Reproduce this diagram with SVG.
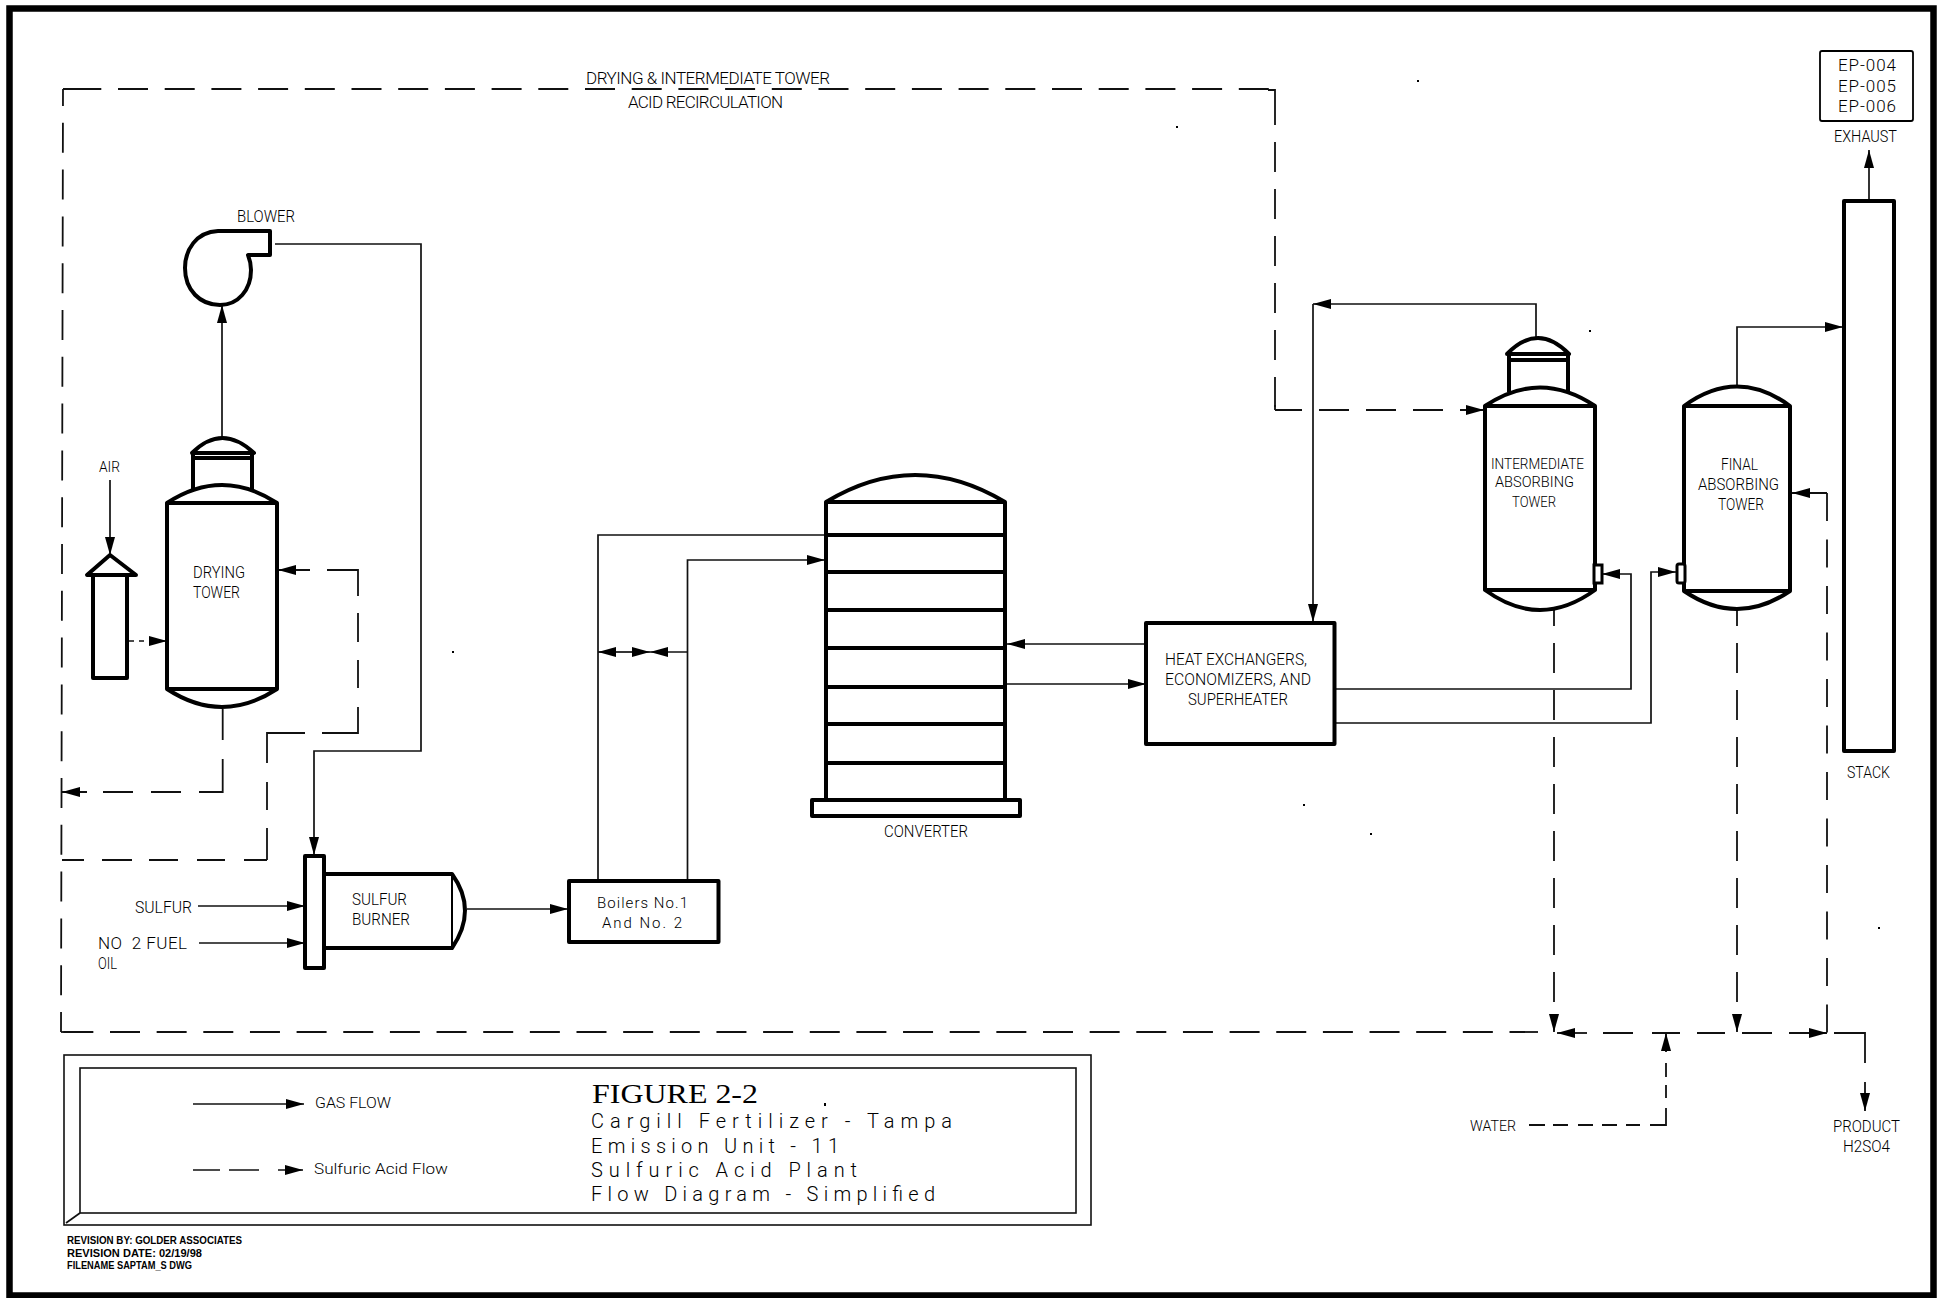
<svg xmlns="http://www.w3.org/2000/svg" width="1943" height="1298" viewBox="0 0 1943 1298">
<style>
.eq{fill:#fff;stroke:#000;stroke-width:4;stroke-linejoin:round}
.eqn{fill:none;stroke:#000;stroke-width:4;stroke-linejoin:round}
.thin{fill:none;stroke:#000;stroke-width:2}
.gas{fill:none;stroke:#111;stroke-width:1.7;stroke-linejoin:miter}
.acid{fill:none;stroke:#111;stroke-width:1.8;stroke-dasharray:30 17}
.acidx{fill:none;stroke:#111;stroke-width:1.8}
text{font-family:"Roboto","Liberation Sans",Arial,sans-serif;font-weight:300;font-size:17px;fill:#000}
.big{font-size:20px}
.fig{font-family:"Liberation Serif","Times New Roman",serif;font-weight:400;font-size:28px}
.small{font-family:"Liberation Sans",Arial,sans-serif;font-weight:700;font-size:10px}
.sm15{font-size:15px}
</style>
<defs>
<marker id="a" markerUnits="userSpaceOnUse" markerWidth="20" markerHeight="12" refX="18" refY="6" orient="auto"><path d="M0,1 L18,6 L0,11 Z" fill="#000"/></marker>
</defs>
<rect width="1943" height="1298" fill="#fff"/>
<rect id="frame" x="9.5" y="8.5" width="1924" height="1287" fill="none" stroke="#000" stroke-width="6.5"/>

<g id="connectors">
<path class="gas" d="M222,437 V305" marker-end="url(#a)"/>
<path class="gas" d="M275,244 H421 V751 H314 V855" marker-end="url(#a)"/>
<path class="gas" d="M110,480 V555" marker-end="url(#a)"/>
<path class="gas" d="M129,641 H134 M139,641 H144 M149,641 H167" marker-end="url(#a)"/>
<path class="gas" d="M198,906 H305" marker-end="url(#a)"/>
<path class="gas" d="M199,943 H305" marker-end="url(#a)"/>
<path class="gas" d="M467,909 H568" marker-end="url(#a)"/>
<path class="gas" d="M598,880 V535 H826"/>
<path class="gas" d="M687.5,880 V560 H825" marker-end="url(#a)"/>
<path class="gas" d="M618,652 H598" marker-end="url(#a)"/>
<path class="gas" d="M618,652 H650" marker-end="url(#a)"/>
<path class="gas" d="M687,652 H650" marker-end="url(#a)"/>
<path class="gas" d="M1146,644 H1007" marker-end="url(#a)"/>
<path class="gas" d="M1007,684 H1146" marker-end="url(#a)"/>
<path class="gas" d="M1536,338 V304 H1313" marker-end="url(#a)"/>
<path class="gas" d="M1313,304 V622" marker-end="url(#a)"/>
<path class="gas" d="M1336,689 H1631 V574 H1602" marker-end="url(#a)"/>
<path class="gas" d="M1336,723 H1651 V572 H1676" marker-end="url(#a)"/>
<path class="gas" d="M1737,386 V327 H1843" marker-end="url(#a)"/>
<path class="gas" d="M1869,201 V150" marker-end="url(#a)"/>
<path class="acid" style="stroke-dasharray:30 16.8;stroke-dashoffset:13" d="M63,89 L61,1032"/>
<path class="acid" style="stroke-dasharray:30 16.7" d="M71.3,89 H1275"/>
<path class="acidx" d="M63,89 H72 M1268,90 H1275 V125 M1275,405 V410"/>
<path class="acid" d="M1275,142 V410"/>
<path class="acid" style="stroke-dashoffset:3" d="M1275,410 H1484" marker-end="url(#a)"/>
<path class="acid" style="stroke-dasharray:30 16.65" d="M63.35,1032 H1538"/>
<path class="acidx" d="M61,1032 H64"/>
<path class="acidx" d="M1587,1033 H1557" marker-end="url(#a)"/>
<path class="acidx" d="M1603,1033 H1633 M1652,1033 H1680 M1697,1033 H1725 M1742,1033 H1772 M1789,1033 H1827" marker-end="url(#a)"/>
<path class="acidx" d="M1834,1033 H1865 V1063 M1865,1082 V1111" marker-end="url(#a)"/>
<path class="acid" style="stroke-dashoffset:14" d="M1554,610 V1032" marker-end="url(#a)"/>
<path class="acid" style="stroke-dashoffset:14" d="M1737,610 V1032" marker-end="url(#a)"/>
<path class="acid" style="stroke-dasharray:28 18.5" d="M1827,493 V1033"/>
<path class="acidx" d="M1827,493 H1792" marker-end="url(#a)"/>
<path class="acidx" d="M1529,1125 H1545 M1553,1125 H1568 M1578,1125 H1593 M1602,1125 H1617 M1626,1125 H1640 M1650,1125 H1666 V1108 M1666,1098 V1085 M1666,1077 V1063 M1666,1052 V1033" marker-end="url(#a)"/>
<path class="acidx" d="M222.7,709 V740 M222.7,759 V792 H199 M181,792 H151 M133,792 H103 M87,792 H62" marker-end="url(#a)"/>
<path class="acidx" d="M267,860 H244 M225,860 H197 M178,860 H149 M132,860 H102 M84,860 H62"/>
<path class="acidx" d="M267,860 V828 M267,810 V782 M267,763 V733 H305 M322,733 H358 V707 M358,688 V660 M358,642 V613 M358,596 V570 H327 M310,570 H278" marker-end="url(#a)"/>
</g>

<g id="blower"><path class="eqn" d="M270,231 H218 C196,232 185,250 185,268 C185,290 200,305 220,305 C238,305 251,290 251,270 C251,264 250,260 248,255 H270 Z"/><text x="237" y="222" textLength="58" lengthAdjust="spacingAndGlyphs">BLOWER</text></g>

<g id="air-intake"><path class="eqn" d="M93,575 V678 H127 V575 M87,575 H136 L110,555 Z"/><text x="99" y="472" textLength="21" lengthAdjust="spacingAndGlyphs" class="sm15">AIR</text></g>

<g id="drying-tower">
<path class="eqn" d="M192,453 Q222,423 254,453 Z M193,458 H252 M193,453 V490 M252,453 V490"/>
<path class="eq" d="M167,503 Q222,467 277,503 V689 Q222,725 167,689 Z"/>
<path class="eqn" d="M167,503 H277 M167,689 H277"/>
<text x="193" y="578" textLength="52" lengthAdjust="spacingAndGlyphs">DRYING</text>
<text x="193" y="598" textLength="47" lengthAdjust="spacingAndGlyphs">TOWER</text>
</g>

<g id="sulfur-burner">
<path class="eq" d="M324,874 H452 Q478,910 452,948 H324 Z"/>
<path class="thin" d="M452,874 V948"/>
<rect class="eq" x="305" y="856" width="19" height="112"/>
<text x="352" y="905" textLength="55" lengthAdjust="spacingAndGlyphs">SULFUR</text>
<text x="352" y="925" textLength="58" lengthAdjust="spacingAndGlyphs">BURNER</text>
</g>
<g id="sulfur-label"><text x="135" y="913" textLength="57" lengthAdjust="spacingAndGlyphs">SULFUR</text></g>
<g id="fuel-label">
<text x="98" y="949" textLength="89" xml:space="preserve">NO  2 FUEL</text>
<text x="98" y="969" textLength="19" lengthAdjust="spacingAndGlyphs">OIL</text>
</g>

<g id="boilers"><rect class="eq" x="569" y="881" width="149.500" height="61"/>
<text x="597" y="908" textLength="91" class="sm15">Boilers No.1</text>
<text x="602" y="928" textLength="80" class="sm15">And No. 2</text></g>

<g id="converter">
<path class="eq" d="M826,502 Q915,448 1005,502 V800 H826 Z"/>
<path class="eqn" d="M826,502 H1005 M826,535 H1005 M826,572 H1005 M826,610 H1005 M826,648 H1005 M826,687 H1005 M826,724 H1005 M826,763 H1005"/>
<rect class="eq" x="812" y="800" width="208" height="16"/>
<text x="884" y="837" textLength="84" lengthAdjust="spacingAndGlyphs">CONVERTER</text>
</g>

<g id="heat-exchangers"><rect class="eq" x="1146" y="623" width="188.500" height="121"/>
<text x="1165" y="665" textLength="142" lengthAdjust="spacingAndGlyphs">HEAT EXCHANGERS,</text>
<text x="1165" y="685" textLength="146" lengthAdjust="spacingAndGlyphs">ECONOMIZERS, AND</text>
<text x="1188" y="705" textLength="100" lengthAdjust="spacingAndGlyphs">SUPERHEATER</text></g>

<g id="intermediate-tower">
<path class="eqn" d="M1507,354 Q1538,322 1569,354 Z M1507,360 H1569 M1509,354 V392 M1568,354 V392"/>
<path class="eq" d="M1485,406 Q1540,369 1595,406 V590 Q1540,630 1485,590 Z"/>
<path class="eqn" d="M1485,406 H1595 M1485,590 H1595"/>
<rect x="1594" y="565" width="8" height="18" fill="#fff" stroke="#000" stroke-width="3"/>
<text x="1491" y="469" textLength="93" lengthAdjust="spacingAndGlyphs" class="sm15">INTERMEDIATE</text>
<text x="1495" y="487" textLength="79" lengthAdjust="spacingAndGlyphs" class="sm15">ABSORBING</text>
<text x="1512" y="507" textLength="44" lengthAdjust="spacingAndGlyphs" class="sm15">TOWER</text>
</g>

<g id="final-tower">
<path class="eq" d="M1684,406 Q1737,367 1790,406 V591 Q1737,627 1684,591 Z"/>
<path class="eqn" d="M1684,406 H1790 M1684,591 H1790"/>
<rect x="1677" y="564" width="8" height="19" rx="2" fill="#fff" stroke="#000" stroke-width="3"/>
<text x="1721" y="470" textLength="37" lengthAdjust="spacingAndGlyphs">FINAL</text>
<text x="1698" y="490" textLength="81" lengthAdjust="spacingAndGlyphs">ABSORBING</text>
<text x="1718" y="510" textLength="46" lengthAdjust="spacingAndGlyphs">TOWER</text>
</g>

<g id="stack"><rect class="eq" x="1844" y="201" width="50" height="550"/>
<text x="1847" y="778" textLength="43" lengthAdjust="spacingAndGlyphs">STACK</text></g>

<g id="exhaust">
<rect x="1820" y="51" width="93" height="70" rx="2" fill="none" stroke="#000" stroke-width="1.8"/>
<text x="1838" y="71" textLength="58">EP-004</text>
<text x="1838" y="92" textLength="58">EP-005</text>
<text x="1838" y="112" textLength="58">EP-006</text>
<text x="1834" y="142" textLength="63" lengthAdjust="spacingAndGlyphs">EXHAUST</text>
</g>

<g id="recirculation-label">
<text x="586" y="84" textLength="244">DRYING &amp; INTERMEDIATE TOWER</text>
<text x="628" y="108" textLength="155">ACID RECIRCULATION</text>
</g>
<g id="water-label"><text x="1470" y="1131" textLength="46" lengthAdjust="spacingAndGlyphs" class="sm15">WATER</text></g>
<g id="product-label">
<text x="1833" y="1132" textLength="67" lengthAdjust="spacingAndGlyphs">PRODUCT</text>
<text x="1843" y="1152" textLength="47" lengthAdjust="spacingAndGlyphs">H2SO4</text>
</g>

<g id="legend">
<rect x="64" y="1055" width="1027" height="170" fill="none" stroke="#111" stroke-width="1.6"/>
<rect x="80" y="1068" width="996" height="145" fill="none" stroke="#111" stroke-width="1.6"/>
<path class="gas" d="M66,1223 L80,1213"/>
<path class="gas" d="M193,1104 H304" marker-end="url(#a)"/>
<path class="gas" d="M193,1170 H220 M229,1170 H259 M278,1170 H303" marker-end="url(#a)"/>
<text x="315" y="1108" textLength="76" lengthAdjust="spacingAndGlyphs" class="sm15">GAS FLOW</text>
<text x="314" y="1174" textLength="134" lengthAdjust="spacingAndGlyphs" class="sm15">Sulfuric Acid Flow</text>
<text x="592" y="1103" textLength="166" lengthAdjust="spacingAndGlyphs" class="fig">FIGURE 2-2</text>
<text x="591" y="1128" textLength="361" class="big">Cargill Fertilizer - Tampa</text>
<text x="591" y="1153" textLength="248" class="big">Emission Unit - 11</text>
<text x="591" y="1177" textLength="266" class="big">Sulfuric Acid Plant</text>
<text x="591" y="1201" textLength="344" class="big">Flow Diagram - Simplified</text>
</g>
<g id="revision">
<text x="67" y="1244" textLength="175" lengthAdjust="spacingAndGlyphs" class="small">REVISION BY: GOLDER ASSOCIATES</text>
<text x="67" y="1257" textLength="135" lengthAdjust="spacingAndGlyphs" class="small">REVISION DATE: 02/19/98</text>
<text x="67" y="1269" textLength="125" lengthAdjust="spacingAndGlyphs" class="small">FILENAME SAPTAM_S DWG</text>
</g>
<path id="specks" fill="#000" d="M1417,80h2v2h-2z M1176,126h2v2h-2z M452,651h2v2h-2z M1303,804h2v2h-2z M1370,833h2v2h-2z M1878,927h2v2h-2z M1589,330h2v2h-2z M824,1103h2v3h-2z"/>
</svg>
